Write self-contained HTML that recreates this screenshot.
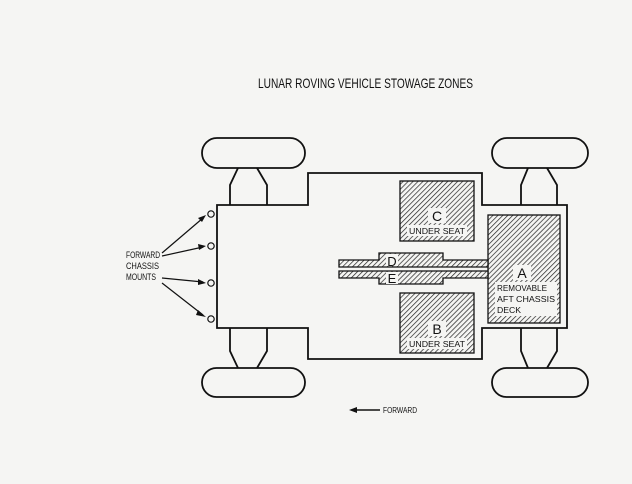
<!DOCTYPE html>
<html><head><style>
html,body{margin:0;padding:0;background:#f5f5f3;}
svg{display:block;}
text{font-family:"Liberation Sans Narrow","Liberation Sans",sans-serif;fill:#111;}
</style></head><body>
<svg width="632" height="484" viewBox="0 0 632 484" xmlns="http://www.w3.org/2000/svg">
<defs>
<pattern id="h" patternUnits="userSpaceOnUse" width="3.5" height="3.5" patternTransform="rotate(45)">
<rect width="4" height="4" fill="#f5f5f3"/>
<line x1="0" y1="0" x2="0" y2="4" stroke="#222" stroke-width="1.4"/>
</pattern>
</defs>
<rect width="632" height="484" fill="#f5f5f3"/>
<text x="258" y="88" font-size="14" textLength="215" lengthAdjust="spacingAndGlyphs">LUNAR ROVING VEHICLE STOWAGE ZONES</text>
<g fill="none" stroke="#111" stroke-width="1.8">
<rect x="202" y="138" width="103" height="30" rx="15"/>
<rect x="492" y="138" width="96" height="30" rx="15"/>
<rect x="202" y="368" width="103" height="29" rx="14.5"/>
<rect x="492" y="368" width="96" height="29" rx="14.5"/>
<polyline points="238,168 230,185 230,205"/><polyline points="257,168 267,185 267,205"/>
<polyline points="238,368 230,351 230,328"/><polyline points="257,368 267,351 267,328"/>
<polyline points="528,168 521,185 521,205"/><polyline points="547,168 557,185 557,205"/>
<polyline points="528,368 521,351 521,328"/><polyline points="547,368 557,351 557,328"/>
<polygon points="217,205 308,205 308,173 482,173 482,205 567,205 567,328 482,328 482,359 308,359 308,328 217,328" fill="#f5f5f3"/>
</g>
<g stroke="#111" stroke-width="1.3" fill="url(#h)">
<rect x="400" y="181" width="74" height="60"/>
<rect x="400" y="293" width="74" height="60"/>
<rect x="488" y="215" width="72" height="108"/>
<polygon points="339,260 379,260 379,253 443,253 443,260 488,260 488,267 339,267"/>
<polygon points="339,271 488,271 488,278 443,278 443,284 379,284 379,278 339,278"/>
</g>
<g font-size="8">
<rect x="428" y="208" width="18" height="15" fill="#f5f5f3"/>
<rect x="407" y="225" width="60" height="11" fill="#f5f5f3"/>
<text x="437" y="221" font-size="14" text-anchor="middle">C</text>
<text x="409" y="234" textLength="56" lengthAdjust="spacingAndGlyphs">UNDER SEAT</text>
<rect x="428" y="321" width="18" height="15" fill="#f5f5f3"/>
<rect x="407" y="338" width="60" height="11" fill="#f5f5f3"/>
<text x="437" y="334" font-size="14" text-anchor="middle">B</text>
<text x="409" y="347" textLength="56" lengthAdjust="spacingAndGlyphs">UNDER SEAT</text>
<rect x="513" y="265" width="18" height="15" fill="#f5f5f3"/>
<rect x="495" y="282" width="62" height="34" fill="#f5f5f3"/>
<text x="522" y="278" font-size="14" text-anchor="middle">A</text>
<text x="497" y="291" textLength="50" lengthAdjust="spacingAndGlyphs">REMOVABLE</text>
<text x="497" y="302" textLength="58" lengthAdjust="spacingAndGlyphs">AFT CHASSIS</text>
<text x="497" y="313" textLength="24" lengthAdjust="spacingAndGlyphs">DECK</text>
<rect x="386" y="254" width="12" height="12" fill="#f5f5f3"/>
<text x="392" y="266" font-size="13" text-anchor="middle">D</text>
<rect x="386" y="272" width="12" height="12" fill="#f5f5f3"/>
<text x="392" y="283" font-size="13" text-anchor="middle">E</text>
</g>
<g fill="none" stroke="#111" stroke-width="1.2">
<circle cx="211" cy="214" r="3.2"/><circle cx="211" cy="246" r="3.2"/>
<circle cx="211" cy="283" r="3.2"/><circle cx="211" cy="319" r="3.2"/>
<line x1="162" y1="253" x2="203" y2="218"/><line x1="162" y1="256" x2="203" y2="247"/>
<line x1="162" y1="278" x2="203" y2="282"/><line x1="162" y1="283" x2="203" y2="315"/>
<line x1="352" y1="410" x2="380" y2="410" stroke-width="1.5"/>
</g>
<g fill="#111">
<polygon points="206,215 198,218 202,222"/>
<polygon points="206,246 198,244 199,250"/>
<polygon points="206,283 198,279 198,285"/>
<polygon points="206,317 198,310 196,315"/>
<polygon points="349,410 357,407 357,413"/>
</g>
<g font-size="9">
<text x="126" y="258" textLength="34" lengthAdjust="spacingAndGlyphs">FORWARD</text>
<text x="126" y="269" textLength="33" lengthAdjust="spacingAndGlyphs">CHASSIS</text>
<text x="126" y="280" textLength="30" lengthAdjust="spacingAndGlyphs">MOUNTS</text>
<text x="383" y="413" font-size="8" textLength="34" lengthAdjust="spacingAndGlyphs">FORWARD</text>
</g>
</svg>
</body></html>
